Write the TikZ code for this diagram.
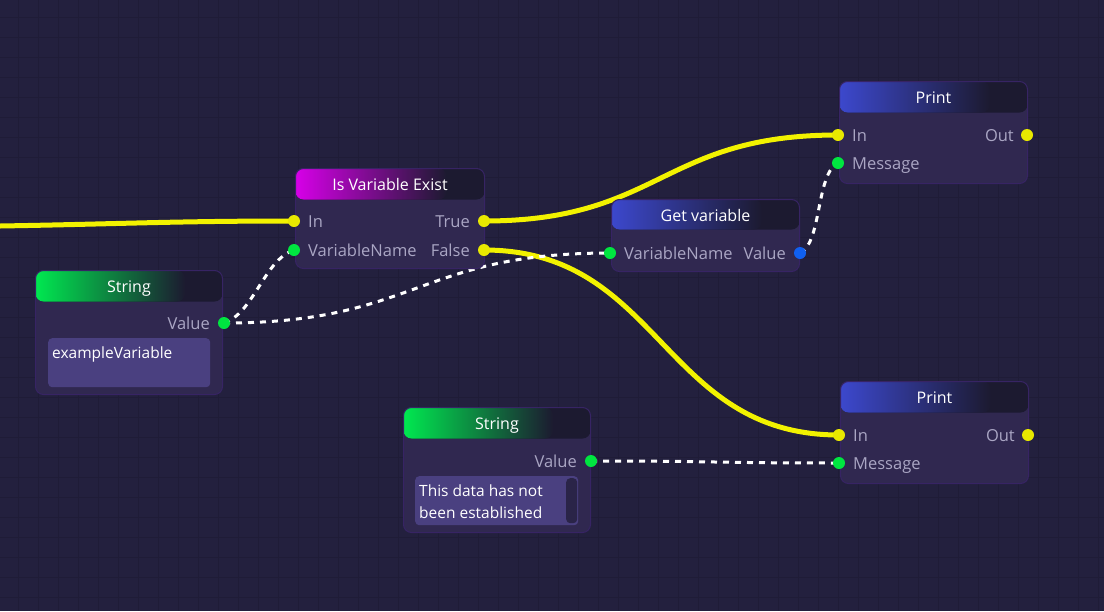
\documentclass[tikz,border=0pt]{standalone}
\usepackage{fontspec}
\setmainfont{Open Sans}
\usetikzlibrary{calc}
\pgfdeclarelayer{bg}\pgfdeclarelayer{edges}
\pgfsetlayers{bg,edges,main}
\definecolor{bgc}{RGB}{35,32,62}
\definecolor{gridc}{RGB}{31,28,55}
\definecolor{boxbody}{RGB}{48,40,80}
\definecolor{boxborder}{RGB}{55,36,100}
\definecolor{hdrdark}{RGB}{28,26,48}
\definecolor{labelc}{RGB}{170,166,196}
\definecolor{tboxc}{RGB}{74,64,128}
\definecolor{scrollc}{RGB}{42,36,72}
\definecolor{wireY}{RGB}{242,242,0}
\definecolor{portY}{RGB}{232,232,0}
\definecolor{portG}{RGB}{0,230,64}
\definecolor{portB}{RGB}{16,96,240}
\definecolor{hdrM}{RGB}{215,0,232}
\definecolor{hdrG}{RGB}{0,232,80}
\definecolor{hdrB}{RGB}{60,72,205}
\tikzset{
  gbox/.style={draw=boxborder, line width=1pt, fill=boxbody, rounded corners=8pt,
    inner sep=0pt, anchor=north west},
  hdr/.style 2 args={path picture={
    \fill[hdrdark] (path picture bounding box.north west) rectangle
       ([yshift=-#2]path picture bounding box.north east);
    \shade[left color=#1, right color=hdrdark] (path picture bounding box.north west) rectangle
       ($([yshift=-#2]path picture bounding box.north west)!0.8!([yshift=-#2]path picture bounding box.north east)$);
  }},
  ttl/.style={text=white, font=\fontsize{16}{19}\selectfont, inner sep=0pt, anchor=base},
  lbl/.style={text=labelc, font=\fontsize{16.5}{19}\selectfont, inner sep=0pt},
  lw/.style={lbl, anchor=base west},
  le/.style={lbl, anchor=base east},
  port/.style={circle, fill=#1, inner sep=0pt, minimum size=12pt},
  tbox/.style={fill=tboxc, rounded corners=4pt, inner sep=0pt, anchor=north west},
  tboxtext/.style={text=white, font=\fontsize{15.5}{22}\selectfont, inner sep=0pt, anchor=north west, align=left},
  flow/.style={draw=wireY, line width=5pt},
  data/.style={draw=white, line width=3pt, dash pattern=on 6pt off 6pt},
}
\begin{document}
\begin{tikzpicture}[x=1pt,y=-1pt]
\useasboundingbox (0,0) rectangle (1104,611);
\begin{pgfonlayer}{bg}
\fill[bgc] (0,0) rectangle (1104,611);
\foreach \gx in {18,38,...,1104} \draw[gridc, line width=1pt] (\gx,0) -- (\gx,611);
\foreach \gy in {17,37,...,611} \draw[gridc, line width=1pt] (0,\gy) -- (1104,\gy);
\end{pgfonlayer}

% ---- Is Variable Exist
\node[gbox, minimum width=189pt, minimum height=100pt, hdr={hdrM}{31pt}] (ive) at (295,168) {};
\node[ttl] (ive-t) at ($(ive.north)+(0,22)$) {Is Variable Exist};
\node[port=portY] (ive-in) at (294,221) {};
\node[port=portG] (ive-vn) at (294,250) {};
\node[port=portY] (ive-true) at (484,221) {};
\node[port=portY] (ive-false) at (484,250) {};
\node[lw] (ive-inl) at (308,227) {In};
\node[lw] (ive-vnl) at (308,256) {VariableName};
\node[le] (ive-truel) at (470,227) {True};
\node[le] (ive-falsel) at (470,256) {False};

% ---- String (left)
\node[gbox, minimum width=187pt, minimum height=124pt, hdr={hdrG}{31pt}] (s1) at (35,270) {};
\node[ttl] (s1-t) at ($(s1.north)+(0,22)$) {String};
\node[port=portG] (s1-val) at (224,323) {};
\node[le] (s1-vall) at (210,329) {Value};
\node[tbox, minimum width=162pt, minimum height=49pt] (s1-box) at (48,338) {};
\node[tboxtext] (s1-txt) at (52,347) {exampleVariable};

% ---- Get variable
\node[gbox, minimum width=188pt, minimum height=72pt, hdr={hdrB}{30pt}] (gv) at (611,199) {};
\node[ttl] (gv-t) at ($(gv.north)+(0,22)$) {Get variable};
\node[port=portG] (gv-vn) at (610,253) {};
\node[port=portB] (gv-val) at (800,253) {};
\node[lw] (gv-vnl) at (624,259) {VariableName};
\node[le] (gv-vall) at (786,259) {Value};

% ---- Print (top)
\node[gbox, minimum width=188pt, minimum height=102pt, hdr={hdrB}{31pt}] (p1) at (839,81) {};
\node[ttl] (p1-t) at ($(p1.north)+(0,22)$) {Print};
\node[port=portY] (p1-in) at (838,135) {};
\node[port=portG] (p1-msg) at (838,163) {};
\node[port=portY] (p1-out) at (1027,135) {};
\node[lw] (p1-inl) at (852,141) {In};
\node[lw] (p1-msgl) at (852,169) {Message};
\node[le] (p1-outl) at (1014,141) {Out};

% ---- Print (bottom)
\node[gbox, minimum width=188pt, minimum height=102pt, hdr={hdrB}{31pt}] (p2) at (840,381) {};
\node[ttl] (p2-t) at ($(p2.north)+(0,22)$) {Print};
\node[port=portY] (p2-in) at (839,435) {};
\node[port=portG] (p2-msg) at (839,463) {};
\node[port=portY] (p2-out) at (1028,435) {};
\node[lw] (p2-inl) at (853,441) {In};
\node[lw] (p2-msgl) at (853,469) {Message};
\node[le] (p2-outl) at (1015,441) {Out};

% ---- String (bottom)
\node[gbox, minimum width=187pt, minimum height=125pt, hdr={hdrG}{31pt}] (s2) at (403,407) {};
\node[ttl] (s2-t) at ($(s2.north)+(0,22)$) {String};
\node[port=portG] (s2-val) at (591,461) {};
\node[le] (s2-vall) at (577,467) {Value};
\node[tbox, minimum width=163pt, minimum height=49pt] (s2-box) at (415,476) {};
\node[fill=scrollc, rounded corners=4pt, inner sep=0pt, minimum width=11pt, minimum height=45pt, anchor=north west] (s2-scroll) at (566,478) {};
\node[tboxtext] (s2-txt) at (419,485) {This data has not\\been established};

% ---- connectors
\coordinate (start) at (0,226);
\begin{pgfonlayer}{edges}
\draw[flow] (start) .. controls +(120,-2) and +(-120,0) .. (ive-in.center);
\draw[flow] (ive-true.center) .. controls +(177,0) and +(-177,0) .. (p1-in.center);
\draw[flow] (ive-false.center) .. controls +(177,0) and +(-177,0) .. (p2-in.center);
\draw[data] (s1-val.center) .. controls +(30,-10) and +(-30,10) .. (ive-vn.center);
\draw[data] (s1-val.center) .. controls +(193,0) and +(-193,0) .. (gv-vn.center);
\draw[data] (gv-val.center) .. controls +(22,-10) and +(-22,10) .. (p1-msg.center);
\draw[data] (s2-val.center) .. controls +(124,0) and +(-124,0) .. (p2-msg.center);
\end{pgfonlayer}
\end{tikzpicture}
\end{document}
